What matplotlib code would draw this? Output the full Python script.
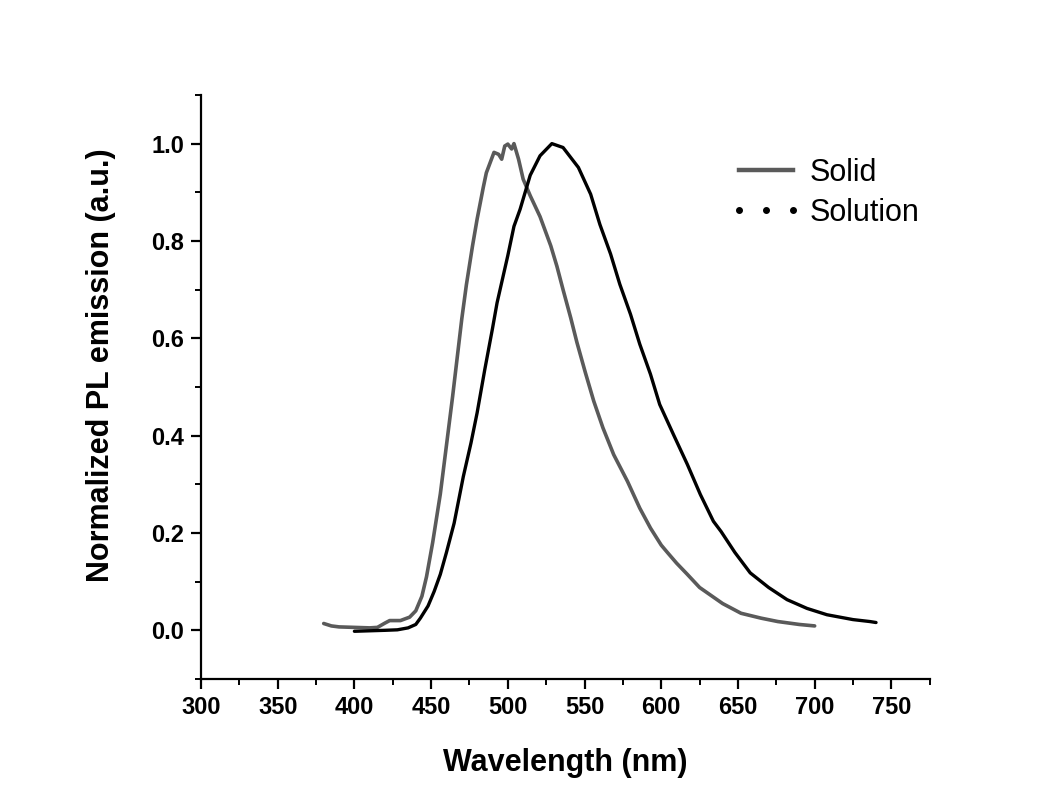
import matplotlib
matplotlib.use('Agg')
import matplotlib.pyplot as plt
from matplotlib.lines import Line2D
from matplotlib.ticker import MultipleLocator

plt.rcParams['font.family'] = ['Liberation Sans', 'DejaVu Sans']

# PL spectra
solid_wl = [380, 385, 390, 400, 410, 415, 420, 423, 430, 436, 440, 444, 447, 451,
            456, 460, 464, 467, 470, 473, 477, 480, 484, 486, 488.5, 491, 494, 496,
            498, 500, 502.5, 504, 507, 510, 514.6, 521, 528, 532, 536, 541, 545,
            550.5, 556, 562, 569, 578, 586, 593, 600, 604, 610, 617, 625, 640, 652,
            665, 676, 690, 700]
solid_pl = [0.014, 0.009, 0.007, 0.006, 0.005, 0.006, 0.015, 0.020, 0.020, 0.027,
            0.040, 0.070, 0.110, 0.180, 0.280, 0.380, 0.480, 0.560, 0.640, 0.710,
            0.790, 0.845, 0.910, 0.940, 0.961, 0.982, 0.978, 0.968, 0.995, 0.999,
            0.989, 1.000, 0.968, 0.927, 0.893, 0.850, 0.790, 0.748, 0.700, 0.642,
            0.592, 0.530, 0.471, 0.416, 0.361, 0.306, 0.251, 0.210, 0.175, 0.160,
            0.138, 0.115, 0.088, 0.055, 0.035, 0.025, 0.018, 0.012, 0.009]

solution_wl = [400, 410, 420, 428, 435, 440, 443, 448, 452, 456, 460, 465, 471, 476,
               480, 485, 490, 493, 500, 504, 508, 514.6, 521, 528.7, 536, 546, 554,
               560, 567, 573, 580, 586, 593, 599, 608, 617, 625.5, 634, 639, 648,
               658, 670, 682, 695, 708, 725, 736, 740]
solution_pl = [-0.002, -0.001, 0.000, 0.001, 0.005, 0.012, 0.025, 0.050, 0.080, 0.115,
               0.160, 0.220, 0.316, 0.385, 0.447, 0.536, 0.620, 0.673, 0.770, 0.830,
               0.865, 0.935, 0.975, 1.000, 0.992, 0.951, 0.896, 0.834, 0.773, 0.711,
               0.649, 0.588, 0.526, 0.464, 0.402, 0.341, 0.279, 0.224, 0.203, 0.160,
               0.118, 0.088, 0.063, 0.045, 0.032, 0.022, 0.018, 0.016]

fig = plt.figure(figsize=(10.6, 8.06), dpi=100)
ax = fig.add_axes([0.1896, 0.1576, 0.6875, 0.7246])

ax.plot(solid_wl, solid_pl, color='#5a5a5a', lw=2.6, solid_capstyle='round',
        solid_joinstyle='round')
ax.plot(solution_wl, solution_pl, color='black', lw=2.4, solid_capstyle='round',
        solid_joinstyle='round')

ax.set_xlim(300, 775)
ax.set_ylim(-0.1, 1.1)
ax.xaxis.set_major_locator(MultipleLocator(50))
ax.xaxis.set_minor_locator(MultipleLocator(25))
ax.yaxis.set_major_locator(MultipleLocator(0.2))
ax.yaxis.set_minor_locator(MultipleLocator(0.1))

for s in ['top', 'right']:
    ax.spines[s].set_visible(False)
for s in ['left', 'bottom']:
    ax.spines[s].set_linewidth(1.6)

ax.tick_params(which='major', direction='out', length=7, width=1.6,
               labelsize=17, pad=5)
ax.tick_params(which='minor', direction='out', length=4, width=1.4)
for lab in ax.get_xticklabels() + ax.get_yticklabels():
    lab.set_fontweight('bold')

ax.set_xlabel('Wavelength (nm)', fontsize=22, fontweight='bold', labelpad=21)
ax.set_ylabel('Normalized PL emission (a.u.)', fontsize=22, fontweight='bold')
ax.yaxis.set_label_coords(-0.117, 0.538)

handles = [Line2D([], [], color='#5a5a5a', lw=3.2),
           Line2D([], [], color='black', linestyle='none', marker='o', markersize=4)]
ax.legend(handles, ['Solid', 'Solution'], loc='upper left',
          bbox_to_anchor=(0.6887, 0.804), bbox_transform=fig.transFigure,
          frameon=False, fontsize=22, numpoints=3, handlelength=2.35,
          handletextpad=0.26, labelspacing=0.33, borderpad=0, borderaxespad=0)

fig.savefig('out.png', dpi=100, facecolor='white')
